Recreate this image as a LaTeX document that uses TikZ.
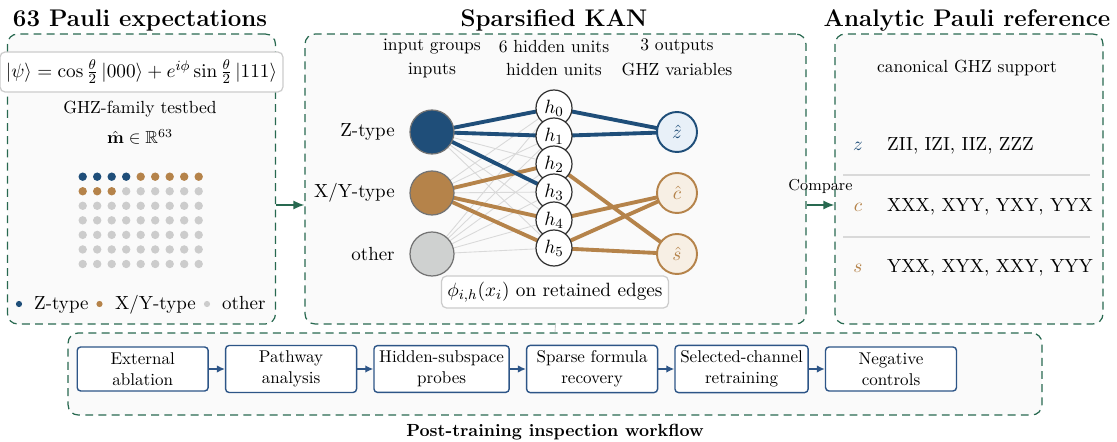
\documentclass[tikz,border=0pt]{standalone}
\usepackage{amsmath,amssymb}
\usetikzlibrary{positioning,arrows.meta}

\definecolor{panelgreen}{RGB}{40,105,80}
\definecolor{zblue}{RGB}{31,78,121}
\definecolor{zbluelight}{RGB}{232,240,248}
\definecolor{xyorange}{RGB}{181,131,74}
\definecolor{xyorangelight}{RGB}{247,239,228}
\definecolor{othergray}{RGB}{204,204,204}
\definecolor{inothergray}{RGB}{207,209,208}
\definecolor{panelfill}{RGB}{250,250,250}
\definecolor{flowblue}{RGB}{45,85,135}

\pgfdeclarelayer{panels}
\pgfdeclarelayer{edges}
\pgfsetlayers{panels,edges,main}

\begin{document}
\begin{tikzpicture}[x=0.02cm, y=-0.02cm,
  panel/.style={draw=panelgreen, dash pattern=on 4.5pt off 3pt, line width=0.7pt,
    fill=panelfill, rounded corners=0.2cm, inner sep=0pt},
  title/.style={font=\fontsize{13.7}{16}\selectfont\bfseries},
  head/.style={font=\fontsize{10}{12}\selectfont},
  lab/.style={font=\fontsize{10.8}{13}\selectfont},
  softbox/.style={draw=black!20, fill=white, rounded corners=0.1cm, line width=0.7pt,
    font=\fontsize{10.95}{13}\selectfont},
  inode/.style={circle, draw=black!55, line width=0.7pt, minimum size=0.88cm, inner sep=0pt},
  hnode/.style={circle, draw=black!80, fill=white, line width=0.7pt, minimum size=0.72cm,
    inner sep=0pt, font=\fontsize{10.95}{13}\selectfont},
  onode/.style={circle, line width=1.1pt, minimum size=0.8cm, inner sep=0pt,
    font=\fontsize{10.95}{13}\selectfont},
  legdot/.style={circle, minimum size=0.124cm, inner sep=0pt},
  faint/.style={draw=black!15, line width=0.5pt},
  zedge/.style={draw=zblue, line width=2.2pt},
  xedge/.style={draw=xyorange, line width=2.2pt},
  flow/.style={-{Latex[length=2.2mm,width=1.8mm]}, draw=panelgreen, line width=0.9pt},
  wfbox/.style={draw=flowblue, line width=0.8pt, rounded corners=2pt, fill=white,
    minimum width=2.62cm, minimum height=0.88cm, align=center, inner sep=3pt,
    font=\fontsize{9.7}{12}\selectfont},
  wfarrow/.style={-{Latex[length=1.6mm,width=1.5mm]}, draw=flowblue, line width=0.8pt},
  sep/.style={draw=black!15, line width=0.6pt}
]
\useasboundingbox (0,0) rectangle (1117,442);

% dashed panels
\begin{pgfonlayer}{panels}
  \node[panel, minimum width=5.36cm, minimum height=5.8cm] (pauli) at (141.5,179) {};
  \node[panel, minimum width=10.02cm, minimum height=5.8cm] (kan) at (555.5,179) {};
  \node[panel, minimum width=5.36cm, minimum height=5.8cm] (ref) at (969,179) {};
  \node[panel, minimum width=19.48cm, minimum height=1.64cm] (flow) at (555,374) {};
\end{pgfonlayer}

% panel titles
\node[title, anchor=base] (t1) at (140,27) {63 Pauli expectations};
\node[title, anchor=base] (t2) at (554,27) {Sparsified KAN};
\node[title, anchor=base] (t3) at (967,27) {Analytic Pauli reference};

% ---- measurement vector panel
\node[softbox, minimum width=5.64cm, minimum height=0.8cm] (state) at (141.5,72)
  {$|\psi\rangle = \cos\frac{\theta}{2}\,|000\rangle + e^{i\phi}\sin\frac{\theta}{2}\,|111\rangle$};
\node[head] (testbed) at (140,109) {GHZ-family testbed};
\node[head] (mvec) at (140,137) {$\hat{\mathbf{m}}\in\mathbb{R}^{63}$};

\foreach \i in {0,...,62}{
  \pgfmathtruncatemacro\col{mod(\i,9)}
  \pgfmathtruncatemacro\row{div(\i,9)}
  \ifnum\i<4 \def\dc{zblue}\else\ifnum\i<12 \def\dc{xyorange}\else\def\dc{othergray}\fi\fi
  \fill[\dc] (82.7+14.5*\col, 176.7+14.55*\row) circle[radius=0.084cm];
}

\node[legdot, fill=zblue] (lz) at (19,304) {};
\node[lab, anchor=base west] (lzt) at (28,310) {Z-type};
\node[legdot, fill=xyorange] (lx) at (99.5,304) {};
\node[lab, anchor=base west] (lxt) at (109,310) {X/Y-type};
\node[legdot, fill=othergray] (lo) at (207,304) {};
\node[lab, anchor=base west] (lot) at (216,310) {other};

% ---- KAN panel
\node[head] (hd1) at (432,46.5) {input groups};
\node[head] (hd2) at (432,70) {inputs};
\node[head] (hd3) at (554,46.5) {6 hidden units};
\node[head] (hd4) at (554,70) {hidden units};
\node[head] (hd5) at (677,46.5) {3 outputs};
\node[head] (hd6) at (677,70) {GHZ variables};

\node[inode, fill=zblue] (iz) at (432,132) {};
\node[inode, fill=xyorange] (ixy) at (432,193) {};
\node[inode, fill=inothergray] (iot) at (432,254) {};
\node[lab, left=0.17cm of iz] (lbz) {Z-type};
\node[lab, left=0.17cm of ixy] (lbxy) {X/Y-type};
\node[lab, left=0.17cm of iot] (lbo) {other};

\foreach \k in {0,...,5}{
  \node[hnode] (h\k) at (554,108+28*\k) {$h_{\k}$};
}

\node[onode, draw=zblue, fill=zbluelight, text=zblue] (oz) at (677,132) {$\hat{z}$};
\node[onode, draw=xyorange, fill=xyorangelight, text=xyorange] (oc) at (677,193) {$\hat{c}$};
\node[onode, draw=xyorange, fill=xyorangelight, text=xyorange] (os) at (677,254) {$\hat{s}$};

\begin{pgfonlayer}{edges}
  \foreach \a in {iz,ixy,iot}{
    \foreach \b in {0,...,5}{
      \draw[faint] (\a.center) -- (h\b.center);
    }
  }
  \draw[xedge] (ixy.center) -- (h2.center);
  \draw[xedge] (ixy.center) -- (h4.center);
  \draw[xedge] (ixy.center) -- (h5.center);
  \draw[xedge] (h2.center) -- (os.center);
  \draw[xedge] (h4.center) -- (oc.center);
  \draw[xedge] (h5.center) -- (oc.center);
  \draw[xedge] (h5.center) -- (os.center);
  \draw[zedge] (iz.center) -- (h0.center);
  \draw[zedge] (iz.center) -- (h1.center);
  \draw[zedge] (iz.center) -- (h3.center);
  \draw[zedge] (h0.center) -- (oz.center);
  \draw[zedge] (h1.center) -- (oz.center);
\end{pgfonlayer}

\node[softbox, minimum width=4.52cm, minimum height=0.64cm] (phi) at (555,292)
  {$\phi_{i,h}(x_i)$ on retained edges};

% ---- reference panel
\node[head] (canon) at (967,68) {canonical GHZ support};
\node[lab, text=zblue, anchor=base] (vz) at (858,151) {$z$};
\node[lab, anchor=base west] (rz) at (881,151) {ZII, IZI, IIZ, ZZZ};
\node[lab, text=xyorange, anchor=base] (vc) at (858,212) {$c$};
\node[lab, anchor=base west] (rc) at (881,212) {XXX, XYY, YXY, YYX};
\node[lab, text=xyorange, anchor=base] (vs) at (858,273) {$s$};
\node[lab, anchor=base west] (rs) at (881,273) {YXX, XYX, XXY, YYY};
\draw[sep] (843,175) -- (1090,175);
\draw[sep] (843,237) -- (1090,237);

% ---- panel links
\draw[flow] ([yshift=-0.52cm]pauli.east) -- ([yshift=-0.52cm]kan.west);
\draw[flow] ([yshift=-0.52cm]kan.east) --
  node[above=4pt, inner sep=2pt, font=\fontsize{9}{10}\selectfont] (cmp) {Compare}
  ([yshift=-0.52cm]ref.west);
\draw[black!20, line width=0.5pt] (kan.south) -- (flow.north);

% ---- inspection workflow
\node[wfbox, anchor=west] (w1) at (76.5,369) {External\\ablation};
\node[wfbox, right=0.32cm of w1] (w2) {Pathway\\analysis};
\node[wfbox, right=0.32cm of w2] (w3) {Hidden-subspace\\probes};
\node[wfbox, right=0.32cm of w3] (w4) {Sparse formula\\recovery};
\node[wfbox, right=0.32cm of w4] (w5) {Selected-channel\\retraining};
\node[wfbox, right=0.32cm of w5] (w6) {Negative\\controls};
\foreach \a/\b in {w1/w2,w2/w3,w3/w4,w4/w5,w5/w6}{
  \draw[wfarrow] (\a) -- (\b);
}
\node[font=\fontsize{10}{12}\selectfont\bfseries, anchor=base] (cap) at (555,437)
  {Post-training inspection workflow};
\end{tikzpicture}
\end{document}
